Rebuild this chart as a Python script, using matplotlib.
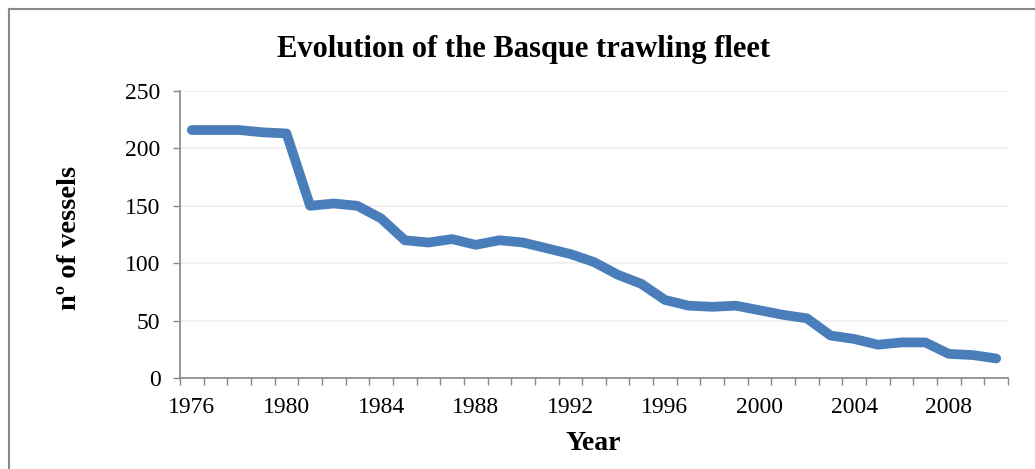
import matplotlib
matplotlib.use("Agg")
import matplotlib.pyplot as plt
from matplotlib.lines import Line2D

plt.rcParams['font.family'] = ['Liberation Serif', 'DejaVu Serif']

years = list(range(1976, 2011))
vessels = [216, 216, 216, 214, 213, 150, 152, 150, 139, 120,
           118, 121, 116, 120, 118, 113, 108, 101, 90, 82,
           68, 63, 62, 63, 59, 55, 52, 37, 34, 29,
           31, 31, 21, 20, 17]
year_labels = [str(y) for y in years[::4]]

fig = plt.figure(figsize=(10.35, 4.69), dpi=100)
ax = fig.add_axes([180 / 1035, 1 - 378 / 469, 828 / 1035, 287 / 469])

x = list(range(len(years)))
ax.plot(x, vessels, color='#4a7ebb', linewidth=7,
        solid_capstyle='round', solid_joinstyle='round')

ax.set_xlim(-0.5, len(years) - 0.5)
ax.set_ylim(0, 250)
ax.set_yticks([0, 50, 100, 150, 200, 250])
ax.grid(axis='y', color='#efefef', linewidth=1.2)
ax.set_axisbelow(True)

# tick marks between categories, labels on every 4th year
ax.set_xticks([i - 0.5 for i in range(len(years) + 1)])
ax.set_xticklabels([])
ax.set_xticks(x[::4], minor=True)
ax.set_xticklabels(year_labels, minor=True)
ax.tick_params(axis='x', which='major', length=5, width=1, color='#888888')
ax.tick_params(axis='x', which='minor', length=0, pad=14, labelsize=17)
ax.tick_params(axis='y', length=5, width=1, color='#888888', pad=9, labelsize=17)

for s in ['top', 'right']:
    ax.spines[s].set_visible(False)
for s in ['left', 'bottom']:
    ax.spines[s].set_color('#888888')
    ax.spines[s].set_linewidth(1.2)

fig.text(524 / 1035, 1 - 57 / 469, 'Evolution of the Basque trawling fleet',
         ha='center', va='baseline', fontsize=22, fontweight='bold')
fig.text(593 / 1035, 1 - 450 / 469, 'Year', ha='center', va='baseline',
         fontsize=20, fontweight='bold')
fig.text(70 / 1035, 1 - 238 / 469, 'nº of vessels', ha='center', va='center',
         rotation=90, fontsize=20.5, fontweight='bold')

# chart border (cropped on right and bottom)
fig.add_artist(Line2D([9 / 1035, 9 / 1035], [0, 1 - 9 / 469],
                      transform=fig.transFigure, color='#888888', linewidth=1.5))
fig.add_artist(Line2D([9 / 1035, 1], [1 - 9 / 469, 1 - 9 / 469],
                      transform=fig.transFigure, color='#888888', linewidth=1.5))

fig.savefig('out.png', dpi=100)
